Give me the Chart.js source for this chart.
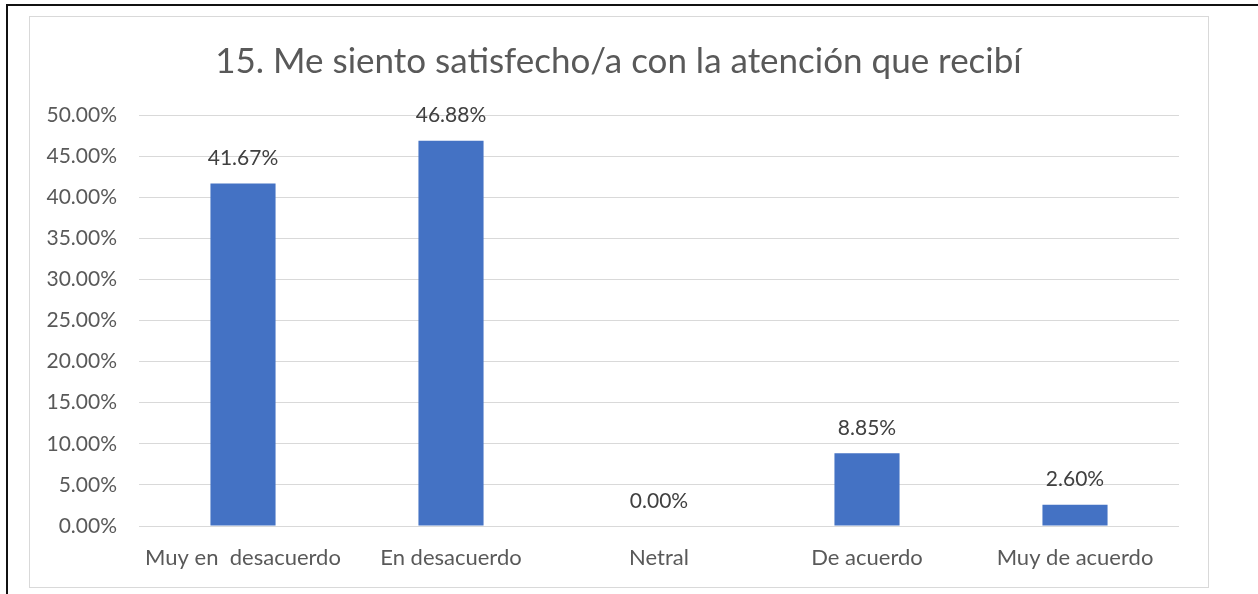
<!DOCTYPE html>
<html>
<head>
<meta charset="utf-8">
<script src="https://cdn.jsdelivr.net/npm/chart.js@4/dist/chart.umd.min.js"></script>
<style>
  html, body { margin: 0; padding: 0; background: #fff; }
  #page { position: relative; width: 1258px; height: 594px; overflow: hidden; }
  #outer { position: absolute; left: 6px; top: 4px; width: 1260px; height: 600px;
           border-top: 2px solid #111; border-left: 2px solid #111; }
  #inner { position: absolute; left: 29px; top: 16px; width: 1178px; height: 570px;
           border: 1px solid #d9d9d9; }
  #chartBox { position: absolute; left: 0; top: 0; width: 1258px; height: 594px; }
</style>
</head>
<body>
<div id="page">
  <div id="outer"></div>
  <div id="inner"></div>
  <div id="chartBox"><canvas id="chart"></canvas></div>
</div>
<script>
const titleText = "15. Me siento satisfecho/a con la atención que recibí";
const categories = ["Muy en  desacuerdo", "En desacuerdo", "Netral", "De acuerdo", "Muy de acuerdo"];
const values = [41.67, 46.88, 0.00, 8.85, 2.60];
const yTicks = [0, 5, 10, 15, 20, 25, 30, 35, 40, 45, 50];

const fontFamily = "Lato, 'Open Sans', sans-serif";
const textGray = "#595959";

// title is centred on the chart frame, not on the plot, so draw it here
const frameTitle = {
  id: "frameTitle",
  afterDraw(chart) {
    const ctx = chart.ctx;
    ctx.save();
    ctx.font = `35px ${fontFamily}`;
    ctx.fillStyle = textGray;
    ctx.textAlign = "center";
    ctx.textBaseline = "middle";
    ctx.fillText(titleText, 618.5, 62);
    ctx.restore();
  }
};

// value labels above each bar
const barLabels = {
  id: "barLabels",
  afterDatasetsDraw(chart) {
    const ctx = chart.ctx;
    const meta = chart.getDatasetMeta(0);
    ctx.save();
    ctx.font = `21px ${fontFamily}`;
    ctx.fillStyle = "#404040";
    ctx.textAlign = "center";
    ctx.textBaseline = "middle";
    meta.data.forEach((bar, i) => {
      ctx.fillText(values[i].toFixed(2) + "%", bar.x, bar.y - 25);
    });
    ctx.restore();
  }
};

new Chart(document.getElementById("chart"), {
  type: "bar",
  data: {
    labels: categories,
    datasets: [{
      data: values,
      backgroundColor: "#4472c4",
      barPercentage: 1,
      categoryPercentage: 0.313
    }]
  },
  options: {
    responsive: true,
    maintainAspectRatio: false,
    animation: false,
    layout: { padding: { left: 30, right: 79, top: 115, bottom: 0 } },
    plugins: {
      legend: { display: false },
      tooltip: { enabled: false },
      title: { display: false }
    },
    scales: {
      x: {
        afterFit(scale) { scale.height = 68; },
        grid: { display: false, drawTicks: false },
        border: { display: false },
        ticks: { color: textGray, font: { family: fontFamily, size: 22 }, padding: 19, maxRotation: 0 }
      },
      y: {
        min: 0,
        max: 50,
        afterFit(scale) { scale.width = 109; },
        afterBuildTicks(scale) { scale.ticks = yTicks.map((v) => ({ value: v })); },
        grid: { color: "#d9d9d9", lineWidth: 1, drawTicks: false },
        border: { display: false },
        ticks: {
          color: textGray,
          font: { family: fontFamily, size: 21 },
          padding: 22,
          callback: (v) => Number(v).toFixed(2) + "%"
        }
      }
    }
  },
  plugins: [barLabels, frameTitle]
});
</script>
</body>
</html>
